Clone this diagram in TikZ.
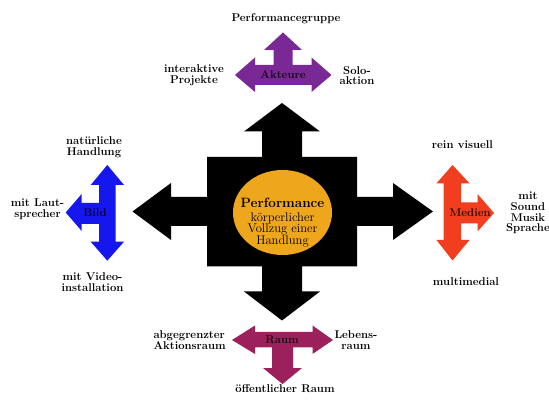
\documentclass[tikz,border=0pt]{standalone}
\usepackage{fontspec}
\begin{document}
\begin{tikzpicture}[x=1pt,y=-1pt,
  lbl/.style={font=\fontsize{11.3}{10.8}\selectfont\bfseries, align=center, inner sep=0pt, text=black},
  inlbl/.style={font=\fontsize{11.3}{11}\selectfont\bfseries, inner sep=0pt}]
\definecolor{akteurcol}{RGB}{122,40,150}
\definecolor{bildcol}{RGB}{22,22,238}
\definecolor{mediencol}{RGB}{240,62,30}
\definecolor{raumcol}{RGB}{156,32,92}
\definecolor{kerncol}{RGB}{238,166,28}
\useasboundingbox[fill=white] (0,0) rectangle (549,403);

% central cross of four arrows around a square
\fill[black] (282,103) -- (320,131.5) -- (302,131.5) -- (302,157) -- (357,157) -- (357,197)
  -- (393,197) -- (393,183) -- (433,211.5) -- (393,240) -- (393,226) -- (357,226)
  -- (357,266.5) -- (302,266.5) -- (302,291.5) -- (320,291.5) -- (282,320.5)
  -- (244,291.5) -- (262,291.5) -- (262,266.5) -- (207,266.5) -- (207,226)
  -- (171,226) -- (171,240) -- (132.5,211.5) -- (171,183) -- (171,197) -- (207,197)
  -- (207,157) -- (262,157) -- (262,131.5) -- (244,131.5) -- cycle;
\fill[kerncol] (282.5,212.5) ellipse [x radius=49.5, y radius=42.5];
\node[inner sep=0pt, anchor=base, text=black, font=\fontsize{13.5}{12}\selectfont\bfseries]
  (kerntitel) at (282.5,208) {Performance};
\node[inner sep=0pt, align=center, text=black, font=\fontsize{12.6}{11.5}\selectfont]
  (kerntext) at (282.5,229.6) {körperlicher\\Vollzug einer\\Handlung};

% Akteure: three-way arrow (up, left, right)
\fill[akteurcol] (283,32.5) -- (302,50) -- (292.5,50) -- (292.5,65) -- (311.5,65) -- (311.5,57.5)
  -- (331.5,75) -- (311.5,92) -- (311.5,85) -- (255,85) -- (255,92) -- (235,75)
  -- (255,57.5) -- (255,65) -- (273.5,65) -- (273.5,50) -- (264,50) -- cycle;
\node[inlbl, text=black!85!akteurcol] (akteure) at (283,75) {Akteure};

% Raum: three-way arrow (left, right, down)
\fill[raumcol] (232,340) -- (255,325.5) -- (255,332) -- (312.5,332) -- (312.5,325.5) -- (333,340)
  -- (312.5,354) -- (312.5,347.5) -- (293,347.5) -- (293,368) -- (302,368) -- (282.5,384)
  -- (263,368) -- (272,368) -- (272,347.5) -- (255,347.5) -- (255,354) -- cycle;
\node[inlbl, text=black!85!raumcol] (raum) at (282,339.5) {Raum};

% Bild: three-way arrow (up, down, left)
\fill[bildcol] (107.3,165) -- (124,185) -- (115.5,185) -- (115.5,241.7) -- (124,241.7)
  -- (107.3,260.7) -- (90.7,241.7) -- (99,241.7) -- (99,224) -- (81.7,224) -- (81.7,231)
  -- (65.7,212.5) -- (81.7,194) -- (81.7,203) -- (99,203) -- (99,185) -- (90.7,185) -- cycle;
\node[inlbl, text=black!80!bildcol] (bild) at (95,213) {Bild};

% Medien: three-way arrow (up, down, right)
\fill[mediencol] (452.5,165) -- (469.5,183.3) -- (461,183.3) -- (461,202.5) -- (477.5,202.5)
  -- (477.5,194) -- (494,213) -- (477.5,231.5) -- (477.5,223.3) -- (461,223.3) -- (461,240)
  -- (469.5,240) -- (452.5,260.5) -- (436.5,240) -- (443.5,240) -- (443.5,183.3)
  -- (436.5,183.3) -- cycle;
\node[inlbl, text=black!80!mediencol] (medien) at (470,213) {Medien};

% outer labels
\node[lbl] (gruppe) at (286,19) {Performancegruppe};
\node[lbl] (interaktiv) at (194,75.5) {interaktive\\Projekte};
\node[lbl] (solo) at (357,75.5) {Solo-\\aktion};
\node[lbl] (natur) at (94,147.5) {natürliche\\Handlung};
\node[lbl] (laut) at (37.5,209) {mit Laut-\\sprecher};
\node[lbl] (video) at (92.5,282.5) {mit Video-\\installation};
\node[lbl] (visuell) at (462.5,145) {rein visuell};
\node[lbl] (sound) at (528,213) {mit\\Sound\\Musik\\Sprache};
\node[lbl] (multi) at (466,281.7) {multimedial};
\node[lbl, align=left, anchor=west] (aktionsraum) at (153.3,340) {abgegrenzter\\Aktionsraum};
\node[lbl] (lebens) at (356,340) {Lebens-\\raum};
\node[lbl] (oeffentlich) at (285,388.3) {öffentlicher Raum};
\end{tikzpicture}
\end{document}
